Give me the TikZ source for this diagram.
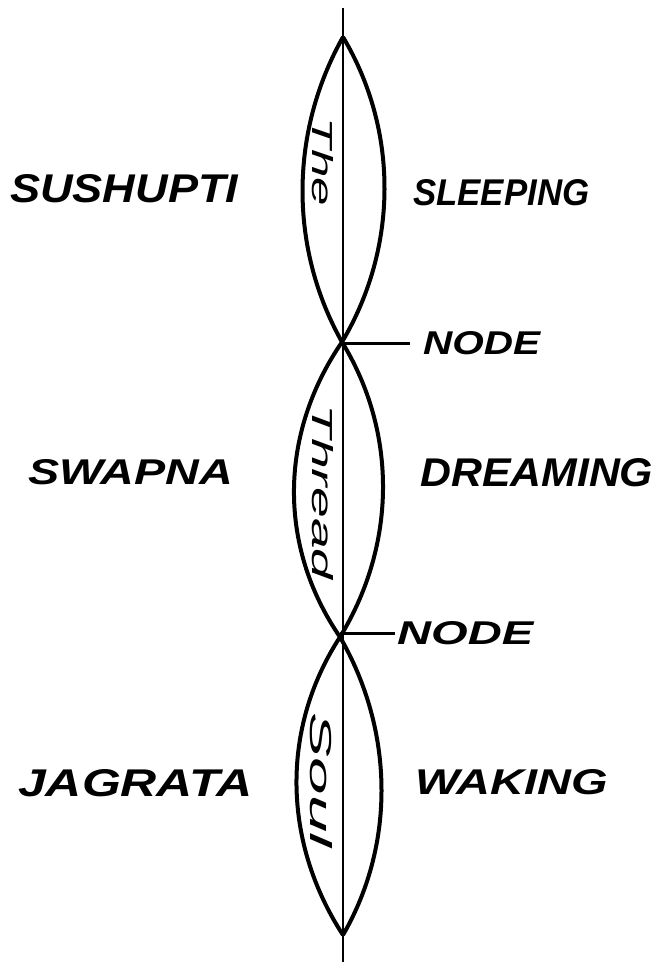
\documentclass[tikz,border=0pt]{standalone}
\usepackage{fontspec}
\usepackage{graphicx}
\newfontfamily\labfont{Liberation Sans}
\newcommand{\lab}[3]{\resizebox{#1pt}{#2pt}{\labfont\bfseries\itshape #3}}
\newcommand{\thr}[3]{\resizebox{#1pt}{#2pt}{\labfont\itshape #3}}
\begin{document}
\begin{tikzpicture}[x=1pt,y=-1pt,
  lens/.style={line width=4pt},
  axis/.style={line width=2.8pt},
  leader/.style={line width=3pt},
  word/.style={inner sep=0pt, anchor=south west},
  soul/.style={inner sep=0pt, rotate=-90}]
\useasboundingbox (0,0) rectangle (661,962);
\fill[white] (0,0) rectangle (661,962);
% tips and nodes
\coordinate (T0) at (343,37);
\coordinate (N1) at (342,342);
\coordinate (N2) at (340,637);
\coordinate (T3) at (343,935);
\coordinate (top) at (343,8);
\coordinate (bot) at (343,962);
% axis (the thread)
\draw[axis] (top) -- (bot);
% lenses
\draw[lens] (T0) .. controls (289.7,131.7) and (288.7,247.3) .. (N1);
\draw[lens] (T0) .. controls (399,131) and (398,248) .. (N1);
\draw[lens] (N1) .. controls (279.3,433.5) and (277.3,545.5) .. (N2);
\draw[lens] (N1) .. controls (398,433.5) and (396,545.5) .. (N2);
\draw[lens] (N2) .. controls (280,729.4) and (283,842.6) .. (T3);
\draw[lens] (N2) .. controls (393.3,729.4) and (396.3,842.6) .. (T3);
% words inside
\node[soul] (the) at (323,162) {\thr{88}{21}{The}};
\node[soul] (thread) at (323,492) {\thr{175}{21}{Thread}};
\node[soul] (soulw) at (321,780) {\thr{135}{22}{Soul}};
% labels
\node[word] (sushupti) at (10,203) {\lab{228}{28}{SUSHUPTI}};
\node[word] (sleeping) at (413,206) {\lab{176}{26}{SLEEPING}};
\node[word] (swapna) at (28,485) {\lab{205}{25}{SWAPNA}};
\node[word] (dreaming) at (420,487) {\lab{233}{28}{DREAMING}};
\node[word] (jagrata) at (18,797) {\lab{234}{27}{JAGRATA}};
\node[word] (waking) at (415,795) {\lab{193}{25}{WAKING}};
\node[word] (node1) at (423,355) {\lab{117}{23}{NODE}};
\node[word] (node2) at (397,645) {\lab{136}{23}{NODE}};
% leaders
\draw[leader, shorten >=13pt] (node1.west -| N1) -- (node1.west);
\draw[leader, shorten >=2pt] (node2.west -| N2) -- (node2.west);
\end{tikzpicture}
\end{document}
